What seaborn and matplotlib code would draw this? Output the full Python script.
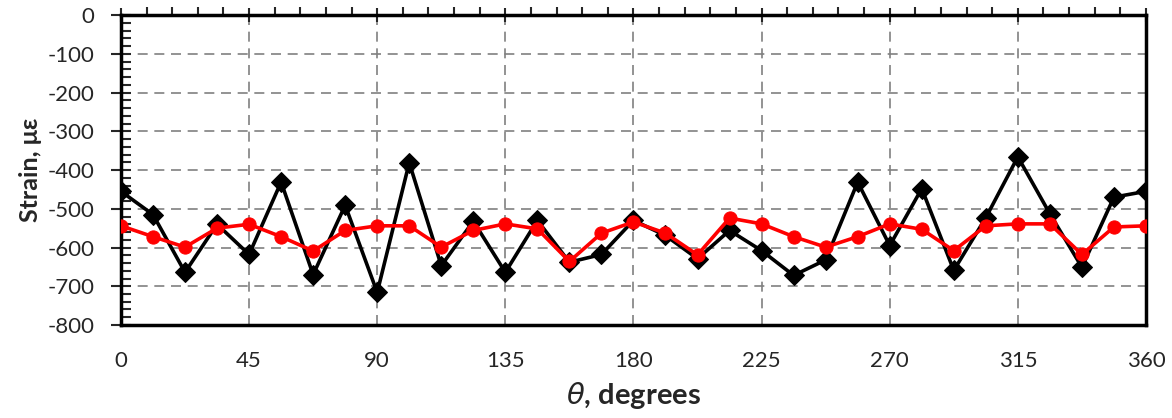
import numpy as np
import pandas as pd
import matplotlib
matplotlib.use("Agg")
import matplotlib.pyplot as plt
from matplotlib.ticker import MultipleLocator
import seaborn as sns

# angle positions (degrees) and strain readings
theta = [0, 11.25, 22.5, 33.75, 45, 56.25, 67.5, 78.75, 90, 101.25, 112.5,
         123.75, 135, 146.25, 157.5, 168.75, 180, 191.25, 202.5, 213.75, 225,
         236.25, 247.5, 258.75, 270, 281.25, 292.5, 303.75, 315, 326.25, 337.5,
         348.75, 360]
strain_black = [-455, -515, -664, -540, -618, -431, -670, -491, -716, -381, -647,
                -532, -664, -530, -638, -618, -530, -569, -629, -556, -608,
                -672, -632, -431, -595, -448, -659, -523, -366, -513, -651,
                -470, -455]
strain_red = [-544, -572, -599, -550, -540, -572, -609, -556, -544, -544, -599,
              -556, -539, -552, -636, -563, -534, -563, -619, -524, -539,
              -572, -599, -572, -539, -553, -608, -544, -539, -539, -618,
              -547, -544]

df = pd.DataFrame({"theta": theta, "black": strain_black, "red": strain_red})

sns.set_style("white")
plt.rcParams['font.family'] = ['Lato', 'DejaVu Sans']
plt.rcParams['axes.unicode_minus'] = False

fig = plt.figure(figsize=(11.72, 4.18), dpi=100)
ax = fig.add_axes([0.1032, 0.2225, 0.8746, 0.7415])

sns.lineplot(data=df, x="theta", y="black", ax=ax, color="black", lw=2.6,
             marker="D", markersize=10, markeredgecolor="black", zorder=3)
sns.lineplot(data=df, x="theta", y="red", ax=ax, color="#ff0000", lw=2.6,
             marker="o", markersize=9.5, markeredgecolor="#ff0000", zorder=4)

ax.set_xlim(0, 360)
ax.set_ylim(-800, 0)
ax.xaxis.set_major_locator(MultipleLocator(45))
ax.xaxis.set_minor_locator(MultipleLocator(9))
ax.yaxis.set_major_locator(MultipleLocator(100))
ax.yaxis.set_minor_locator(MultipleLocator(20))

ax.grid(True, which="major", color="#808080", linestyle=(0, (6, 4)), lw=1.2)
ax.set_axisbelow(True)

for sp in ax.spines.values():
    sp.set_visible(True)
    sp.set_color("black")
    sp.set_linewidth(2.5)

ax.tick_params(axis="x", which="both", top=True, bottom=False,
               labeltop=False, labelbottom=True, labelsize=16, pad=14)
ax.tick_params(axis="x", which="major", direction="inout", length=10, width=1.5)
ax.tick_params(axis="x", which="minor", direction="out", length=6, width=1.5)
ax.tick_params(axis="y", which="both", left=True, right=False, labelsize=16)
ax.tick_params(axis="y", which="major", direction="inout", length=14, width=1.5, pad=12)
ax.tick_params(axis="y", which="minor", direction="in", length=7, width=1.5)

ax.set_xlabel(r"$\theta$, degrees", fontsize=21, fontweight="bold", labelpad=6)
ax.set_ylabel("Strain, με", fontsize=18, fontweight="bold", labelpad=4)

fig.savefig("out.png", dpi=100)
